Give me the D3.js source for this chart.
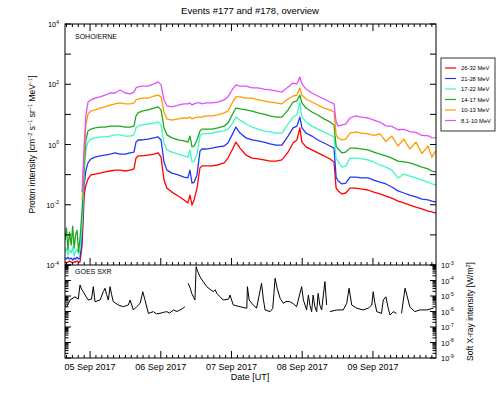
<!DOCTYPE html>
<html>
<head>
<meta charset="utf-8">
<script src="https://cdn.jsdelivr.net/npm/d3@7"></script>
<style>
body { margin: 0; background: #fff; }
svg { display: block; font-family: "Liberation Sans", Arial, sans-serif; }
</style>
</head>
<body>
<svg id="chart" width="499" height="399"></svg>
<script>
// times are hours since 05 Sep 2017 00:00 UT
var protonHours = [-8.5, -8.0, -7.5, -7.0, -6.4, -5.9, -5.4, -4.9, -4.4, -3.9, -3.4,
    -2.7, -2.0, -1.4, -0.7, 0.3, 1.7, 3.4, 5.1, 6.8, 8.5, 10.2, 11.9, 13.6, 14.9, 15.6,
    16.3, 17.6, 19.7, 21.7, 23.1, 24.1, 25.1, 26.1, 27.8, 29.9, 31.9, 33.2, 33.9, 34.6,
    35.3, 36.3, 37.3, 38.0, 39.3, 41.4, 43.4, 45.5, 46.8, 48.2, 49.5, 50.9, 52.9, 55.0,
    57.0, 59.0, 61.1, 63.1, 65.1, 67.2, 68.9, 70.2, 71.2, 71.9, 73.3, 75.3, 77.3, 79.4,
    81.4, 82.8, 83.5, 84.2, 85.5, 86.8, 88.2, 90.2, 92.3, 94.3, 96.3, 98.4, 100.4, 102.4,
    104.5, 106.5, 108.5, 110.6, 112.6, 114.7, 116.0, 117.4];

// log10 of proton intensity per channel
var ch8to10 = [null, null, null, null, null, null, null, null, null, null, null,
    -1.58, -0.02, 0.98, 1.41, 1.48, 1.54, 1.58, 1.64, 1.71, 1.71, 1.81, 1.71, 1.68, 1.74, 1.88,
    1.91, 1.94, 1.94, 2.01, 2.08, 1.98, 1.48, 1.28, 1.25, 1.31, 1.35, 1.35, 1.38, 1.31, 1.35,
    1.38, 1.38, 1.35, 1.38, 1.38, 1.41, 1.48, 1.58, 1.81, 1.98, 1.94, 1.94, 1.88, 1.88, 1.84,
    1.81, 1.78, 1.74, 1.91, 2.04, 2.01, 2.24, 2.01, 1.84, 1.71, 1.61, 1.51, 1.41, 1.35, 0.75,
    0.61, 0.65, 0.68, 0.88, 0.95, 0.91, 0.88, 0.81, 0.74, 0.62, 0.60, 0.49, 0.50, 0.43, 0.40,
    0.30, 0.29, 0.23, 0.22];
var ch10to13 = [null, null, null, null, null, null, null, null, null, null, null,
    -1.84, -0.35, 0.65, 1.01, 1.11, 1.15, 1.21, 1.25, 1.31, 1.35, 1.38, 1.35, 1.35, 1.38, 1.48,
    1.51, 1.54, 1.54, 1.61, 1.64, 1.58, 1.08, 0.85, 0.81, 0.85, 0.88, 0.88, 0.91, 0.85, 0.88,
    0.91, 0.91, 0.91, 0.95, 0.95, 0.98, 1.05, 1.11, 1.38, 1.58, 1.58, 1.54, 1.54, 1.48, 1.45,
    1.41, 1.38, 1.35, 1.51, 1.61, 1.64, 1.88, 1.64, 1.51, 1.41, 1.31, 1.21, 1.15, 1.08, 0.32,
    0.22, 0.15, 0.18, 0.38, 0.42, 0.38, 0.35, 0.30, 0.35, 0.10, 0.28, -0.05, 0.18, -0.15, 0.08,
    -0.30, -0.05, -0.42, -0.20];
var ch14to17 = [-3.17, -2.77, -3.50, -2.91, -3.34, -2.71, -3.44, -3.01, -2.84, -3.57, -3.11,
    -2.18, -0.68, 0.15, 0.45, 0.51, 0.55, 0.58, 0.58, 0.61, 0.61, 0.61, 0.58, 0.58, 0.61, 0.95,
    1.05, 1.11, 1.15, 1.21, 1.25, 1.15, 0.55, 0.32, 0.22, 0.15, 0.12, 0.08, 0.28, -0.08, -0.05,
    0.15, 0.45, 0.51, 0.51, 0.51, 0.55, 0.61, 0.71, 0.98, 1.21, 1.18, 1.15, 1.11, 1.05, 1.01,
    0.95, 0.91, 0.91, 1.15, 1.41, 1.45, 1.64, 1.38, 1.21, 1.08, 0.98, 0.85, 0.75, 0.65, -0.05,
    -0.15, -0.28, -0.25, -0.12, -0.12, -0.15, -0.18, -0.25, -0.32, -0.38, -0.45, -0.55, -0.58, -0.61, -0.68,
    -0.75, -0.81, -0.88, -0.91];
var ch17to22 = [-3.57, -3.44, -3.67, -3.50, -3.60, -3.41, -3.70, -3.54, -3.47, -3.64, -3.50,
    -2.67, -1.01, -0.18, 0.08, 0.18, 0.22, 0.25, 0.25, 0.28, 0.32, 0.32, 0.28, 0.28, 0.32, 0.55,
    0.61, 0.65, 0.68, 0.71, 0.75, 0.65, 0.05, -0.18, -0.25, -0.32, -0.38, -0.42, -0.18, -0.58, -0.55,
    -0.32, 0.28, 0.35, 0.35, 0.38, 0.42, 0.45, 0.51, 0.68, 0.91, 0.81, 0.68, 0.58, 0.51, 0.45,
    0.42, 0.38, 0.38, 0.68, 0.91, 0.98, 1.41, 0.91, 0.75, 0.61, 0.51, 0.42, 0.32, 0.25, -0.45,
    -0.58, -0.75, -0.71, -0.45, -0.45, -0.48, -0.51, -0.58, -0.68, -0.75, -0.85, -1.11, -0.98, -1.05, -1.11,
    -1.18, -1.25, -1.31, -1.35];
var ch21to28 = [-3.77, -3.80, -3.74, -3.80, -3.77, -3.84, -3.77, -3.80, -3.74, -3.80, -3.77,
    -3.01, -1.35, -0.85, -0.61, -0.48, -0.42, -0.38, -0.35, -0.32, -0.28, -0.32, -0.32, -0.28, -0.25, 0.08,
    0.15, 0.15, 0.18, 0.22, 0.25, 0.15, -0.58, -0.85, -0.95, -1.01, -1.08, -1.11, -0.85, -1.28, -1.25,
    -1.01, -0.22, -0.15, -0.15, -0.12, -0.08, -0.05, 0.05, 0.32, 0.58, 0.38, 0.22, 0.15, 0.12, 0.08,
    0.02, -0.02, -0.02, 0.28, 0.55, 0.61, 0.91, 0.55, 0.38, 0.28, 0.15, 0.05, -0.05, -0.12, -1.08,
    -1.21, -1.31, -1.28, -1.08, -1.08, -1.11, -1.11, -1.18, -1.25, -1.31, -1.41, -1.54, -1.61, -1.68, -1.74,
    -1.81, -1.84, -1.88, -1.91];
var ch26to32 = [-3.90, -3.93, -3.90, -3.87, -3.90, -3.93, -3.90, -3.90, -3.87, -3.90, -3.90,
    -3.34, -1.68, -1.35, -1.15, -1.01, -0.98, -0.95, -0.91, -0.88, -0.85, -0.85, -0.88, -0.85, -0.81, -0.45,
    -0.38, -0.38, -0.35, -0.32, -0.28, -0.42, -1.18, -1.45, -1.58, -1.71, -1.84, -1.94, -1.68, -2.01, -1.84,
    -1.45, -0.78, -0.71, -0.71, -0.71, -0.68, -0.61, -0.45, -0.18, 0.08, -0.12, -0.35, -0.45, -0.48, -0.51,
    -0.55, -0.55, -0.51, -0.25, 0.05, 0.15, 0.55, 0.08, -0.08, -0.18, -0.28, -0.38, -0.48, -0.58, -1.45,
    -1.54, -1.64, -1.61, -1.45, -1.45, -1.48, -1.51, -1.58, -1.64, -1.71, -1.78, -1.88, -1.94, -2.01, -2.08,
    -2.14, -2.21, -2.24, -2.28];

var channelNames = ["26-32 MeV", "21-28 MeV", "17-22 MeV", "14-17 MeV", "10-13 MeV", "8.1-10 MeV"];
var channelColors = ["#ff0000", "#2438f0", "#3ff7c4", "#1fa81f", "#ff9a00", "#e050ff"];
var channelSeries = [ch26to32, ch21to28, ch17to22, ch14to17, ch10to13, ch8to10];

// GOES soft X-ray, log10 of flux in W/m^2 (null = data gap)
var goesHours = [-8.5, -7.9, -6.8, -5.1, -4.0, -3.4, -2.9, -2.3, -1.5, -0.6, 0.5, 1.1, 1.7, 3.4, 4.5,
    5.1, 5.6, 6.2, 6.8, 7.3, 7.9, 9.6, 11.3, 13.0, 13.6, 14.7, 15.8, 17.0, 17.9, 18.7, 19.8, 21.5,
    22.5, 23.7, 25.0, 26.0, 27.0, 28.3, 29.5, 30.5, 31.5, 32.2, 32.8, 33.3, 34.0, 34.5, 35.6, 36.0,
    36.5, 37.3, 38.5, 39.6, 41.8, 42.5, 43.0, 44.1, 45.2, 47.0, 47.5, 48.6, 50.9, 53.2, 53.4, 54.0,
    55.0, 56.5, 58.2, 58.8, 59.4, 61.1, 62.0, 62.8, 63.5, 64.5, 65.6, 66.5, 67.8, 69.0, 70.1, 71.8,
    72.4, 73.5, 74.1, 74.6, 75.2, 75.7, 76.3, 76.9, 77.4, 78.0, 78.6, 79.7, 80.3, 80.8, 81.4, 83.7,
    85.9, 87.1, 87.9, 88.8, 90.5, 92.7, 94.4, 95.6, 96.1, 96.6, 97.3, 98.9, 99.5, 100.4, 101.2, 101.8,
    102.9, 104.0, 104.8, 105.7, 106.9, 107.6, 108.5, 110.2, 111.9, 114.2, 116.5];
var goesLog10 = [-5.60, -5.69, -5.26, -5.05, -5.20, -4.29, -4.55, -4.72, -5.00, -5.26, -5.20, -4.40, -5.37, -5.26, -4.72,
    -4.50, -4.90, -5.26, -4.40, -4.90, -5.37, -5.58, -5.69, -5.58, -5.26, -5.90, -5.69, -5.47, -4.72, -5.30, -6.12, -6.01,
    -6.15, -6.12, -6.05, -6.01, -6.10, -5.90, -6.00, -5.90, -5.80, -5.69, null, -4.18, -4.50, -4.83, -5.26, -3.11,
    -3.40, -3.75, -4.10, -4.40, -4.72, -4.60, -4.83, -5.05, -5.26, -5.20, -4.94, -5.58, -5.69, -5.79, -4.40, -5.26,
    -5.50, -5.79, -4.18, -5.20, -5.90, -6.01, -5.80, -3.86, -4.50, -5.15, -5.47, -5.35, -5.37, -5.50, -5.69, -4.40,
    -5.26, -5.90, -4.94, -5.60, -6.01, -4.94, -5.70, -6.01, -4.83, -5.60, -5.90, -4.07, -5.58, null, -6.01, -5.90,
    -5.90, -5.47, -4.50, -5.58, -5.79, -5.90, -5.79, -5.58, -4.72, -5.40, -6.01, -6.12, -5.26, -5.05, -5.79, -6.23,
    -6.01, -6.12, null, -6.12, -4.50, -5.00, -5.69, -6.01, -5.90, -5.90, -5.79];

var protonTicks = [-4, -3, -2, -1, 0, 1, 2, 3, 4];
var protonLabels = [-4, -2, 0, 2, 4];
var goesLabels = [-3, -4, -5, -6, -7, -8, -9];
var dayTicks = ["2017-09-05", "2017-09-06", "2017-09-07", "2017-09-08", "2017-09-09"];

var t0 = Date.UTC(2017, 8, 5);
function toDate(h) { return new Date(t0 + h * 3600000); }

var left = 65, right = 436, topY = 24, midY = 265, bottom = 358;
var svg = d3.select("#chart");

var x = d3.scaleUtc()
    .domain([toDate(-8.5), toDate(117.4)])
    .range([left, right]);
var yP = d3.scaleLog().domain([1e-4, 1e4]).range([midY, topY]);
var yG = d3.scaleLog().domain([1e-9, 1e-3]).range([bottom, midY]);

var defs = svg.append("defs");
defs.append("clipPath").attr("id", "clipP").append("rect")
    .attr("x", left).attr("y", topY).attr("width", right - left).attr("height", midY - topY);
defs.append("clipPath").attr("id", "clipG").append("rect")
    .attr("x", left).attr("y", midY).attr("width", right - left).attr("height", bottom - midY);

// title
svg.append("text").attr("x", 250).attr("y", 14).attr("text-anchor", "middle")
    .attr("font-size", 9.5).text("Events #177 and #178, overview");

// proton lines
var protonLine = d3.line()
    .defined(function(d) { return d.v != null; })
    .x(function(d) { return x(toDate(d.h)); })
    .y(function(d) { return yP(Math.pow(10, d.v)); });

var gP = svg.append("g").attr("clip-path", "url(#clipP)");
channelSeries.forEach(function(series, i) {
    var pts = protonHours.map(function(h, j) { return {h: h, v: series[j]}; });
    gP.append("path")
        .datum(pts)
        .attr("d", protonLine)
        .attr("fill", "none")
        .attr("stroke", channelColors[i])
        .attr("stroke-width", 1.3)
        .attr("stroke-linejoin", "round");
});

// goes line
var goesLine = d3.line()
    .defined(function(d) { return d.v != null; })
    .x(function(d) { return x(toDate(d.h)); })
    .y(function(d) { return yG(Math.pow(10, d.v)); });
var goesPts = goesHours.map(function(h, j) { return {h: h, v: goesLog10[j]}; });
svg.append("g").attr("clip-path", "url(#clipG)").append("path")
    .datum(goesPts)
    .attr("d", goesLine)
    .attr("fill", "none")
    .attr("stroke", "#000")
    .attr("stroke-width", 1);

// frames
var axes = svg.append("g").attr("stroke", "#000").attr("fill", "none");
axes.append("rect").attr("x", left).attr("y", topY).attr("width", right - left).attr("height", bottom - topY);
axes.append("line").attr("x1", left).attr("x2", right).attr("y1", midY).attr("y2", midY);

// time ticks
var minorTimes = d3.utcHour.every(2).range(x.domain()[0], x.domain()[1]);
var majorTimes = dayTicks.map(function(s) { return new Date(s + "T00:00:00Z"); });
function timeTicks(y0, dir) {
    minorTimes.forEach(function(t) {
        var isMajor = t.getUTCHours() == 0;
        var len = isMajor ? 7 : 3;
        axes.append("line").attr("x1", x(t)).attr("x2", x(t))
            .attr("y1", y0).attr("y2", y0 + dir * len);
    });
}
timeTicks(topY, 1);
timeTicks(midY, -1);
timeTicks(bottom, -1);

svg.append("g").selectAll("text").data(majorTimes).enter().append("text")
    .attr("x", function(d) { return x(d); })
    .attr("y", 370)
    .attr("text-anchor", "middle")
    .attr("font-size", 9)
    .text(d3.utcFormat("%d %b %Y"));
svg.append("text").attr("x", 250).attr("y", 380).attr("text-anchor", "middle")
    .attr("font-size", 9).text("Date [UT]");

// proton y ticks
protonTicks.forEach(function(e) {
    var yy = yP(Math.pow(10, e));
    axes.append("line").attr("x1", left).attr("x2", left + 6).attr("y1", yy).attr("y2", yy);
    axes.append("line").attr("x1", right).attr("x2", right - 6).attr("y1", yy).attr("y2", yy);
});
protonLabels.forEach(function(e) {
    var t = svg.append("text").attr("x", 59).attr("y", yP(Math.pow(10, e)) + 3)
        .attr("text-anchor", "end").attr("font-size", 7.5);
    t.append("tspan").text("10");
    t.append("tspan").attr("dy", -3.5).attr("font-size", 5).text(e);
});

// goes y ticks (log minor)
var goesTickVals = yG.ticks();
goesTickVals.forEach(function(v) {
    var yy = yG(v);
    var major = Math.abs(Math.log10(v) - Math.round(Math.log10(v))) < 1e-6;
    var len = major ? 6 : 3.5;
    axes.append("line").attr("x1", left).attr("x2", left + len).attr("y1", yy).attr("y2", yy);
    axes.append("line").attr("x1", right).attr("x2", right - len).attr("y1", yy).attr("y2", yy);
});
goesLabels.forEach(function(e) {
    var t = svg.append("text").attr("x", 441).attr("y", yG(Math.pow(10, e)) + 3)
        .attr("font-size", 7.5);
    t.append("tspan").text("10");
    t.append("tspan").attr("dy", -3.5).attr("font-size", 5).text(e);
});

// panel labels
svg.append("text").attr("x", 75).attr("y", 39).attr("font-size", 7).text("SOHO/ERNE");
svg.append("text").attr("x", 75).attr("y", 274).attr("font-size", 7).text("GOES SXR");

// axis titles
var yt = svg.append("text")
    .attr("transform", "translate(35," + ((topY + midY) / 2) + ") rotate(-90)")
    .attr("text-anchor", "middle")
    .attr("font-size", 8.5);
yt.append("tspan").text("Proton intensity [cm");
yt.append("tspan").attr("dy", -3.5).attr("font-size", 5.5).text("\u22122");
yt.append("tspan").attr("dy", 3.5).text(" s");
yt.append("tspan").attr("dy", -3.5).attr("font-size", 5.5).text("\u22121");
yt.append("tspan").attr("dy", 3.5).text(" sr");
yt.append("tspan").attr("dy", -3.5).attr("font-size", 5.5).text("\u22121");
yt.append("tspan").attr("dy", 3.5).text(" MeV");
yt.append("tspan").attr("dy", -3.5).attr("font-size", 5.5).text("\u22121");
yt.append("tspan").attr("dy", 3.5).text("]");

var rt = svg.append("text")
    .attr("transform", "translate(473," + ((midY + bottom) / 2) + ") rotate(-90)")
    .attr("text-anchor", "middle")
    .attr("font-size", 8.5);
rt.append("tspan").text("Soft X-ray intensity [W/m");
rt.append("tspan").attr("dy", -3.5).attr("font-size", 5.5).text("2");
rt.append("tspan").attr("dy", 3.5).text("]");

// legend
var lg = svg.append("g");
lg.append("rect").attr("x", 441).attr("y", 58).attr("width", 54).attr("height", 73)
    .attr("fill", "#fff").attr("stroke", "#000").attr("stroke-width", 0.8);
channelNames.forEach(function(name, i) {
    var yy = 68 + i * 10.5;
    lg.append("line").attr("x1", 445).attr("x2", 456).attr("y1", yy).attr("y2", yy)
        .attr("stroke", channelColors[i]).attr("stroke-width", 1.2);
    lg.append("text").attr("x", 461).attr("y", yy + 2).attr("font-size", 5.8).text(name);
});
</script>
</body>
</html>
